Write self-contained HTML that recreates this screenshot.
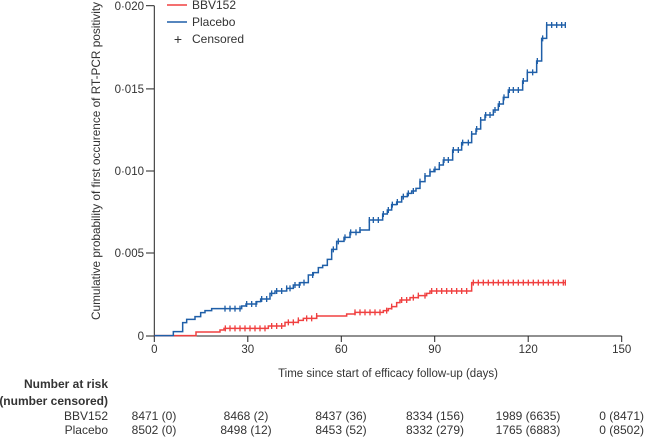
<!DOCTYPE html>
<html><head><meta charset="utf-8"><style>
html,body{margin:0;padding:0;background:#fff}
svg{display:block;font-family:"Liberation Sans",sans-serif;}
</style></head><body>
<svg id="s" width="645" height="441" viewBox="0 0 645 441" xmlns="http://www.w3.org/2000/svg">
<g stroke="#222" stroke-width="1" fill="none">
<line x1="154.3" y1="5.7" x2="154.3" y2="336"/>
<line x1="154.3" y1="336" x2="621.7" y2="336"/>
<line x1="146" y1="5.7" x2="154.3" y2="5.7"/>
<line x1="146" y1="88.9" x2="154.3" y2="88.9"/>
<line x1="146" y1="171" x2="154.3" y2="171"/>
<line x1="146" y1="253" x2="154.3" y2="253"/>
<line x1="146" y1="336" x2="154.3" y2="336"/>
<line x1="154.3" y1="336" x2="154.3" y2="342"/>
<line x1="247.8" y1="336" x2="247.8" y2="342"/>
<line x1="341.3" y1="336" x2="341.3" y2="342"/>
<line x1="434.7" y1="336" x2="434.7" y2="342"/>
<line x1="528.2" y1="336" x2="528.2" y2="342"/>
<line x1="621.7" y1="336" x2="621.7" y2="342"/>
</g>
<g font-size="11.5" fill="#333" text-anchor="end">
<text x="144" y="10">0·020</text>
<text x="144" y="93">0·015</text>
<text x="144" y="175">0·010</text>
<text x="144" y="257">0·005</text>
<text x="144" y="340">0</text>
</g>
<g font-size="11.5" fill="#333" text-anchor="middle">
<text x="154.3" y="353">0</text>
<text x="247.8" y="353">30</text>
<text x="341.3" y="353">60</text>
<text x="434.7" y="353">90</text>
<text x="528.2" y="353">120</text>
<text x="621.7" y="353">150</text>
<text x="388" y="377">Time since start of efficacy follow-up (days)</text>
</g>
<text transform="translate(100,161) rotate(-90)" font-size="12" fill="#333" text-anchor="middle" textLength="318" lengthAdjust="spacingAndGlyphs">Cumulative probability of first occurence of RT-PCR positivity</text>
<g id="curves" transform="translate(140,0) scale(0.33333)" fill="none" stroke-width="4.5"></g>
<line x1="167" y1="5" x2="187" y2="5" stroke="#f04040" stroke-width="1.5"/>
<line x1="167" y1="22" x2="187" y2="22" stroke="#1f5fa8" stroke-width="1.5"/>
<text x="178" y="44" font-size="14" fill="#333" text-anchor="middle">+</text>
<g font-size="12" fill="#333">
<text x="192" y="9">BBV152</text>
<text x="192" y="26">Placebo</text>
<text x="192" y="43">Censored</text>
</g>
<g font-size="12" fill="#333" font-weight="bold" text-anchor="end">
<text x="108" y="388">Number at risk</text>
<text x="108" y="405">(number censored)</text>
</g>
<g font-size="12" fill="#333">
<text x="108" y="420" text-anchor="end">BBV152</text>
<text x="108" y="434" text-anchor="end">Placebo</text>
<g text-anchor="middle">
<text x="154" y="420">8471 (0)</text>
<text x="246" y="420">8468 (2)</text>
<text x="341" y="420">8437 (36)</text>
<text x="435" y="420">8334 (156)</text>
<text x="528" y="420">1989 (6635)</text>
<text x="154" y="434">8502 (0)</text>
<text x="246" y="434">8498 (12)</text>
<text x="341" y="434">8453 (52)</text>
<text x="435" y="434">8332 (279)</text>
<text x="528" y="434">1765 (6883)</text>
</g>
<text x="644" y="420" text-anchor="end">0 (8471)</text>
<text x="644" y="434" text-anchor="end">0 (8502)</text>
</g>
</svg>
<script>
var P=[[43,1007],[100,995],[128,968],[140,958],[165,950],[182,938],[195,932],[215,926],[305,918],[318,912],[350,905],[362,897],[390,880],[405,873],[440,865],[460,855],[480,848],[505,825],[520,818],[535,803],[548,796],[562,778],[575,748],[590,724],[612,712],[630,697],[660,690],[688,660],[728,642],[742,630],[755,614],[770,606],[785,590],[802,580],[815,573],[828,565],[840,545],[855,528],[870,515],[882,508],[898,495],[910,480],[938,450],[965,428],[995,402],[1008,387],[1022,360],[1035,345],[1060,330],[1075,312],[1090,292],[1105,270],[1148,243],[1162,217],[1190,183],[1205,115],[1220,75]];
var B=[[43,1007],[168,996],[240,990],[252,985],[385,978],[435,967],[475,961],[490,955],[530,948],[620,942],[645,937],[730,932],[745,926],[755,920],[770,908],[780,900],[810,893],[835,887],[860,880],[870,873],[995,848]];
var PC=[255,270,285,300,320,335,348,365,380,395,410,425,440,450,465,478,492,518,580,595,615,632,648,660,688,700,715,730,745,757,772,790,805,820,840,855,870,885,898,912,925,940,955,968,985,995,1010,1022,1037,1050,1065,1078,1092,1108,1120,1135,1150,1162,1178,1192,1208,1220,1235,1250,1265,1276];
var BC=[256,270,285,300,315,330,345,360,375,395,410,425,445,460,475,500,515,530,645,660,675,690,705,720,740,755,785,800,820,835,855,875,890,905,920,935,950,965,980];
for(var x=1000;x<=1276;x+=15)BC.push(x);BC.push(1276);
function path(a,end){var d="M"+a[0][0]+","+a[0][1];for(var i=1;i<a.length;i++)d+="H"+a[i][0]+"V"+a[i][1];return d+"H"+end;}
function yat(a,x){var y=a[0][1];for(var i=0;i<a.length;i++)if(a[i][0]<=x)y=a[i][1];return y;}
var g=document.getElementById("curves"),s="";
function draw(a,c,col){s+='<path d="'+path(a,1276)+'" stroke="'+col+'"/>';var m="";c.forEach(function(x){var y=yat(a,x);m+="M"+x+","+(y-9)+"V"+(y+9);});s+='<path d="'+m+'" stroke="'+col+'" stroke-width="4"/>';}
draw(B,BC,"#f04040");draw(P,PC,"#1f5fa8");
g.innerHTML=s;
</script>
</body></html>
